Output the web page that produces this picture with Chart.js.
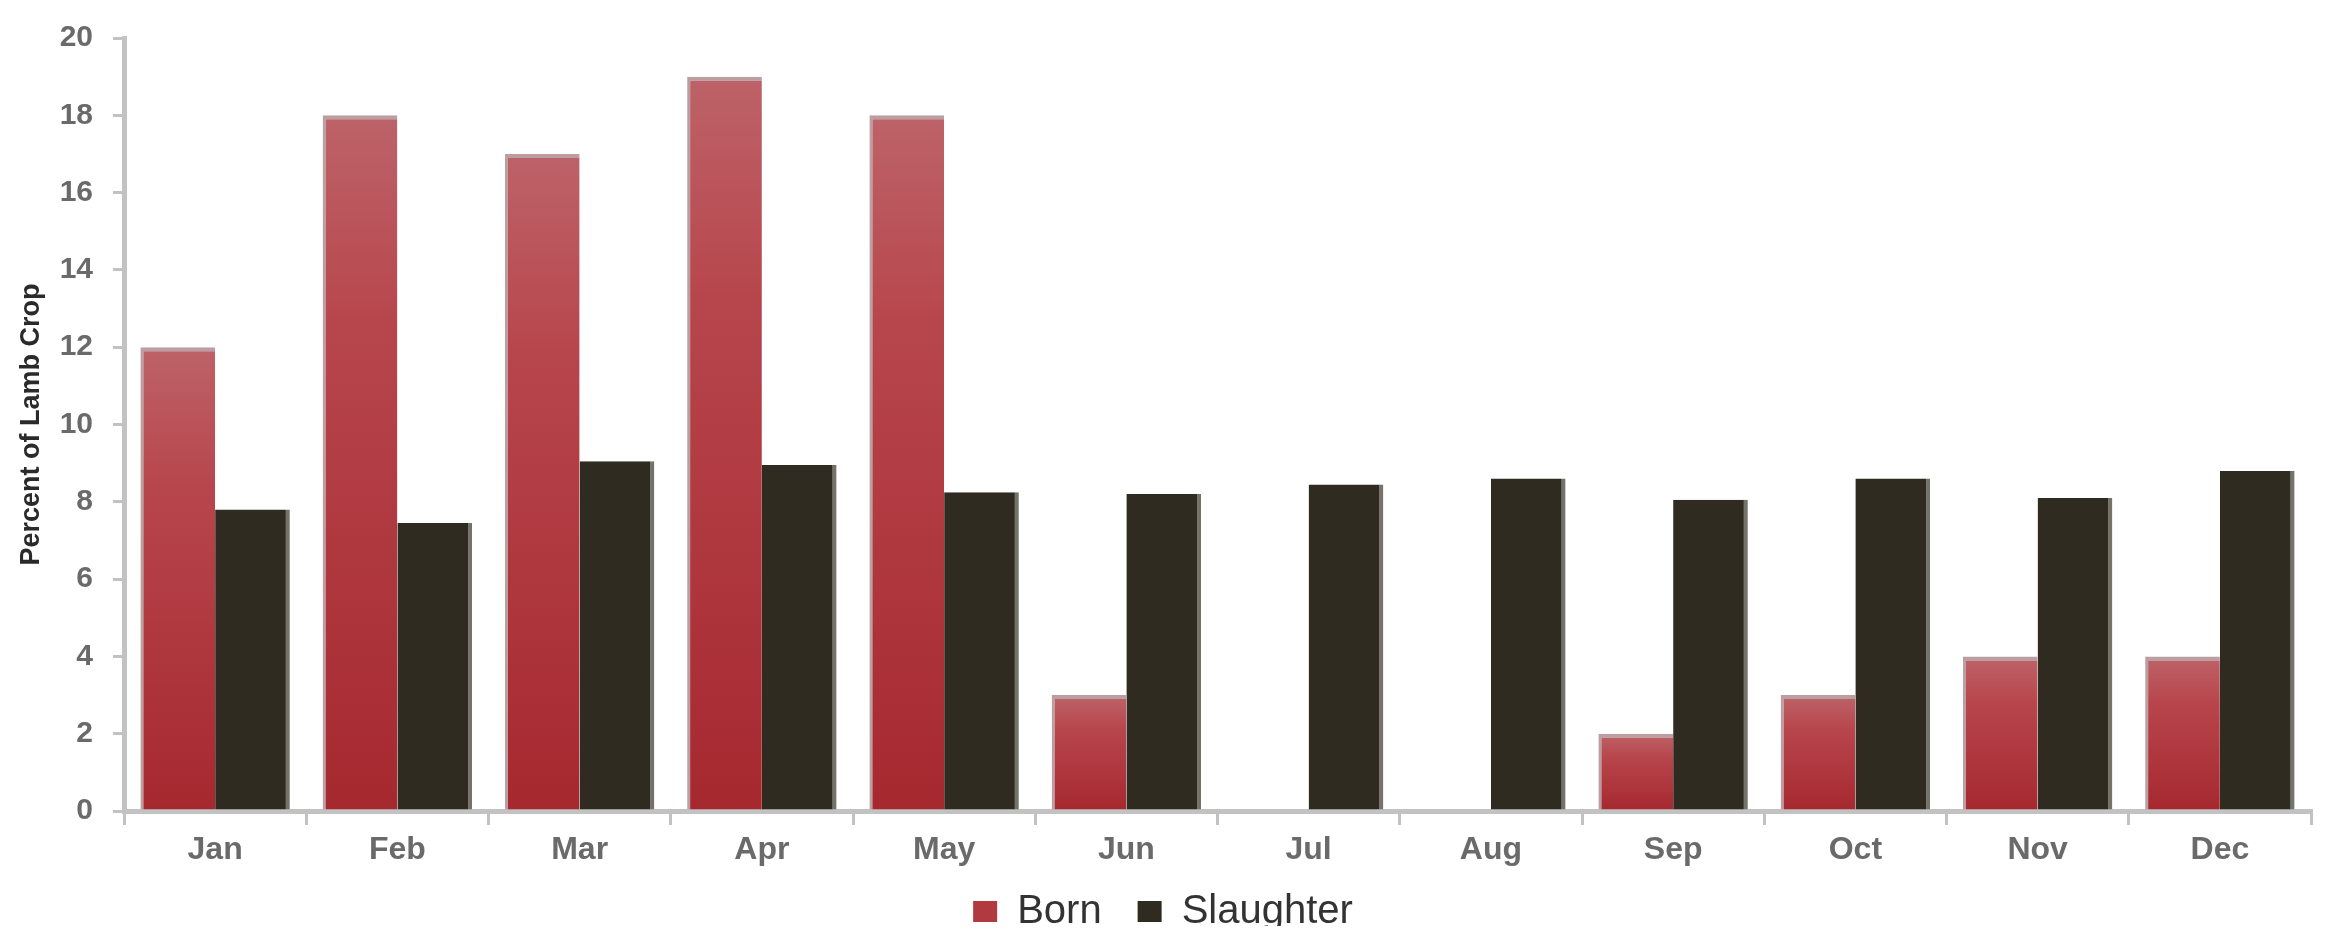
<!DOCTYPE html>
<html>
<head>
<meta charset="utf-8">
<script src="https://cdn.jsdelivr.net/npm/chart.js@4/dist/chart.umd.min.js"></script>
<style>
  html, body { margin: 0; padding: 0; background: #ffffff; }
  canvas { display: block; }
</style>
</head>
<body>
<canvas id="c" width="2326" height="930"></canvas>
<script>
const categories = ['Jan', 'Feb', 'Mar', 'Apr', 'May', 'Jun', 'Jul', 'Aug', 'Sep', 'Oct', 'Nov', 'Dec'];
const born = [12, 18, 17, 19, 18, 3, 0, 0, 2, 3, 4, 4];
const slaughter = [7.8, 7.45, 9.05, 8.95, 8.25, 8.2, 8.45, 8.6, 8.05, 8.6, 8.1, 8.8];
const seriesNames = ['Born', 'Slaughter'];
const yAxisTitle = 'Percent of Lamb Crop';
const yMin = 0, yMax = 20, yStep = 2;

const FONT = "'Liberation Sans', Arial, sans-serif";
const AXIS_GREY = '#c2c2c2';
const RED_SOLID = '#b13a40';
const DARK = '#2f2b20';

function redGradient(ctx) {
  const chart = ctx.chart;
  const area = chart.chartArea;
  if (!area || ctx.type !== 'data') return RED_SOLID;
  const v = ctx.dataset.data[ctx.dataIndex];
  const ys = chart.scales.y;
  const top = ys.getPixelForValue(v);
  const bot = ys.getPixelForValue(0);
  if (!(bot > top + 1)) return RED_SOLID;
  const g = chart.ctx.createLinearGradient(0, top, 0, bot);
  g.addColorStop(0, 'rgb(189,99,105)');
  g.addColorStop(0.3, 'rgb(183,70,76)');
  g.addColorStop(1, 'rgb(166,40,47)');
  return g;
}

const PAD_BOTTOM = 4;
const PAD_SIDE = 15;
const PLOT_LEFT = 124;
const PLOT_BOTTOM = 811;
const LEGEND_PAD = 36;
const LEGEND_FONT = 40;
const LEGEND_BOX_TOP = 901;
const LEGEND_BOX_H = 21;
const LEGEND_TOP = LEGEND_BOX_TOP - LEGEND_PAD - (LEGEND_FONT - LEGEND_BOX_H) / 2;

const legendSizer = {
  id: 'legendSizer',
  afterInit(chart) {
    const lg = chart.legend;
    if (!lg) return;
    const orig = lg.fit;
    lg.fit = function () {
      orig.call(this);
      this.height = 930 - PAD_BOTTOM - LEGEND_TOP;
    };
  }
};

new Chart(document.getElementById('c'), {
  type: 'bar',
  plugins: [legendSizer],
  data: {
    labels: categories,
    datasets: [
      {
        label: seriesNames[0],
        data: born,
        backgroundColor: redGradient,
        borderColor: '#b99fa1',
        borderWidth: { top: 4, left: 3, right: 0, bottom: 0 },
        borderSkipped: false,
        categoryPercentage: 0.82,
        barPercentage: 1.0
      },
      {
        label: seriesNames[1],
        data: slaughter,
        backgroundColor: DARK,
        borderColor: '#75726a',
        borderWidth: { top: 0, left: 0, right: 4, bottom: 0 },
        borderSkipped: false,
        categoryPercentage: 0.82,
        barPercentage: 1.0
      }
    ]
  },
  options: {
    responsive: false,
    animation: false,
    devicePixelRatio: 1,
    layout: { padding: { top: 21, right: PAD_SIDE, left: PAD_SIDE, bottom: PAD_BOTTOM } },
    plugins: {
      tooltip: { enabled: false },
      legend: {
        position: 'bottom',
        align: 'center',
        labels: {
          boxWidth: 24,
          boxHeight: LEGEND_BOX_H,
          padding: LEGEND_PAD,
          color: '#333333',
          font: { family: FONT, size: LEGEND_FONT },
          generateLabels(chart) {
            const items = Chart.defaults.plugins.legend.labels.generateLabels(chart);
            items.forEach((it, i) => {
              it.fillStyle = i === 0 ? RED_SOLID : DARK;
              it.strokeStyle = 'rgba(0,0,0,0)';
              it.lineWidth = 0;
            });
            return items;
          }
        }
      }
    },
    scales: {
      x: {
        grid: {
          display: true,
          drawOnChartArea: false,
          drawTicks: true,
          tickLength: 14,
          color: AXIS_GREY,
          lineWidth: 3,
          offset: true
        },
        border: { display: true, color: AXIS_GREY, width: 5 },
        ticks: {
          color: '#6a6a6a',
          font: { family: FONT, size: 32, weight: 'bold' },
          padding: 6,
          maxRotation: 0,
          autoSkip: false
        },
        afterFit(s) {
          s.height = LEGEND_TOP - PLOT_BOTTOM;
          s._computeLabelArea = function () { return undefined; };
        }
      },
      y: {
        min: yMin,
        max: yMax,
        ticks: {
          stepSize: yStep,
          color: '#6a6a6a',
          font: { family: FONT, size: 30, weight: 'bold' },
          padding: 20
        },
        grid: {
          display: true,
          drawOnChartArea: false,
          drawTicks: true,
          tickLength: 11,
          color: AXIS_GREY,
          lineWidth: 3
        },
        border: { display: true, color: AXIS_GREY, width: 5 },
        title: {
          display: true,
          text: yAxisTitle,
          color: '#2a2a2a',
          font: { family: FONT, size: 27, weight: 'bold' },
          padding: { top: 0, bottom: 0 }
        },
        afterFit(s) { s.width = PLOT_LEFT - PAD_SIDE; }
      }
    }
  }
});
</script>
</body>
</html>
